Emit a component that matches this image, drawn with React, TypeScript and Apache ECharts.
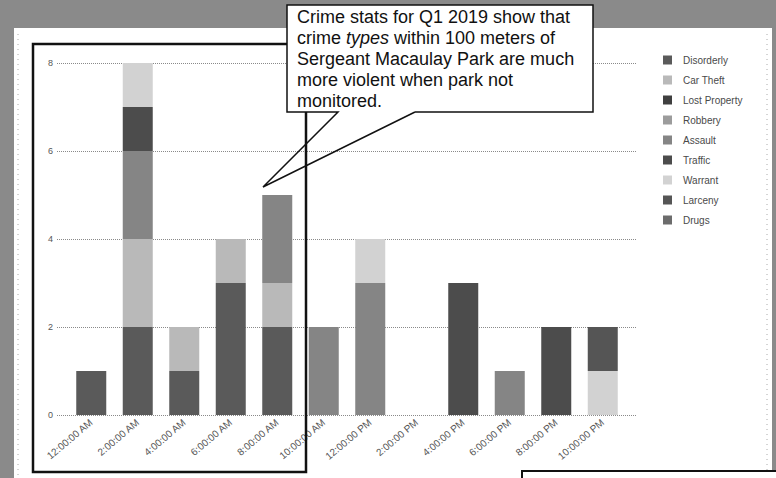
import React, { useEffect, useRef } from "react";
import * as echarts from "echarts";

const categories = [
  "12:00:00 AM", "2:00:00 AM", "4:00:00 AM", "6:00:00 AM", "8:00:00 AM", "10:00:00 AM",
  "12:00:00 PM", "2:00:00 PM", "4:00:00 PM", "6:00:00 PM", "8:00:00 PM", "10:00:00 PM",
];
const crimeTypes = ["Disorderly", "Car Theft", "Lost Property", "Robbery", "Assault", "Traffic", "Warrant", "Larceny", "Drugs"];

const disorderly = [1, 2, 1, 3, 2, 0, 0, 0, 0, 0, 0, 0];
const carTheft = [0, 2, 1, 1, 1, 0, 0, 0, 0, 0, 0, 0];
const lostProperty = [0, 0, 0, 0, 0, 0, 0, 0, 0, 0, 0, 0];
const robbery = [0, 0, 0, 0, 0, 0, 0, 0, 0, 0, 0, 0];
const assault = [0, 2, 0, 0, 2, 2, 3, 0, 0, 1, 0, 0];
const traffic = [0, 1, 0, 0, 0, 0, 0, 0, 3, 0, 2, 0];
const warrant = [0, 1, 0, 0, 0, 0, 1, 0, 0, 0, 0, 1];
const larceny = [0, 0, 0, 0, 0, 0, 0, 0, 0, 0, 0, 1];
const drugs = [0, 0, 0, 0, 0, 0, 0, 0, 0, 0, 0, 0];

const seriesData = [disorderly, carTheft, lostProperty, robbery, assault, traffic, warrant, larceny, drugs];
const seriesColors = ["#5a5a5a", "#b9b9b9", "#3f3f3f", "#9c9c9c", "#858585", "#4c4c4c", "#d2d2d2", "#555555", "#6c6c6c"];

const yMin = 0;
const yMax = 8;
const yStep = 2;

const calloutLines = [
  "Crime stats for Q1 2019 show that",
  "crime {i|types} within 100 meters of",
  "Sergeant Macaulay Park are much",
  "more violent when park not",
  "monitored.",
];

export default function App() {
  const ref = useRef<HTMLDivElement>(null);

  useEffect(() => {
    if (!ref.current) return;
    const chart = echarts.init(ref.current, undefined, { renderer: "svg" });
    const font = "Liberation Sans";
    chart.setOption({
      animation: false,
      textStyle: { fontFamily: font },
      grid: [
        { left: 57, right: 139, top: 63, bottom: 63 },
        { left: 68, right: 150, top: 63, bottom: 63 },
      ],
      xAxis: [
        { gridIndex: 0, type: "category", data: categories, show: false },
        {
          gridIndex: 1,
          type: "category",
          data: categories,
          axisLine: { show: false },
          axisTick: { show: false },
          axisLabel: { rotate: 40, fontSize: 10, color: "#555", margin: 6, interval: 0, fontFamily: font },
        },
      ],
      yAxis: [
        {
          gridIndex: 0,
          type: "value",
          min: yMin,
          max: yMax,
          interval: yStep,
          axisLabel: { fontSize: 9, color: "#555", margin: 4, fontFamily: font },
          splitLine: { lineStyle: { type: "dotted", color: "#8a8a8a", width: 1 } },
          axisLine: { show: false },
          axisTick: { show: false },
        },
        { gridIndex: 1, type: "value", min: yMin, max: yMax, interval: yStep, show: false },
      ],
      legend: {
        orient: "vertical",
        left: 658,
        top: 50,
        itemWidth: 9,
        itemHeight: 9,
        itemGap: 10,
        icon: "rect",
        data: crimeTypes,
        textStyle: { fontSize: 10, color: "#4a4a4a", fontFamily: font, padding: [0, 0, 0, 6] },
      },
      series: crimeTypes.map((name, i) => ({
        name,
        type: "bar",
        stack: "total",
        xAxisIndex: 1,
        yAxisIndex: 1,
        barWidth: 30,
        data: seriesData[i],
        itemStyle: { color: seriesColors[i] },
      })),
      graphic: [
        {
          type: "line",
          shape: { x1: 18, y1: 34, x2: 18, y2: 478 },
          style: { stroke: "#aaa", lineWidth: 1, lineDash: [1, 4] },
          z: 50,
        },
        {
          type: "line",
          shape: { x1: 767, y1: 34, x2: 767, y2: 478 },
          style: { stroke: "#aaa", lineWidth: 1, lineDash: [1, 4] },
          z: 50,
        },
        {
          type: "rect",
          shape: { x: 33, y: 44, width: 273, height: 428 },
          style: { fill: "none", stroke: "#111", lineWidth: 2.5 },
          z: 100,
        },
        {
          type: "rect",
          shape: { x: 287, y: 5, width: 306, height: 107 },
          style: { fill: "#fff" },
          z: 101,
        },
        {
          type: "polyline",
          shape: {
            points: [
              [415, 112], [593, 112], [593, 5], [287, 5], [287, 112], [338, 112], [263, 187], [415, 112],
            ],
          },
          style: { fill: "none", stroke: "#111", lineWidth: 1.5 },
          z: 102,
        },
        {
          type: "text",
          x: 297,
          y: 6,
          z: 103,
          style: {
            text: calloutLines.join("\n"),
            fill: "#111",
            fontSize: 18,
            fontFamily: font,
            lineHeight: 21,
            rich: {
              i: { fontStyle: "italic", fontSize: 18, fontFamily: font, lineHeight: 21, fill: "#111" },
            },
          },
        },
        {
          type: "rect",
          shape: { x: 522, y: 471, width: 260, height: 20 },
          style: { fill: "#fff", stroke: "#111", lineWidth: 2 },
          z: 100,
        },
      ],
    });
    return () => chart.dispose();
  }, []);

  return (
    <div style={{ position: "fixed", left: 0, top: 0, width: 776, height: 478, background: "#8a8a8a", overflow: "hidden" }}>
      <div style={{ position: "absolute", left: 14, top: 28, width: 758, height: 450, background: "#fff" }} />
      <div ref={ref} style={{ position: "absolute", left: 0, top: 0, width: 776, height: 478 }} />
    </div>
  );
}
